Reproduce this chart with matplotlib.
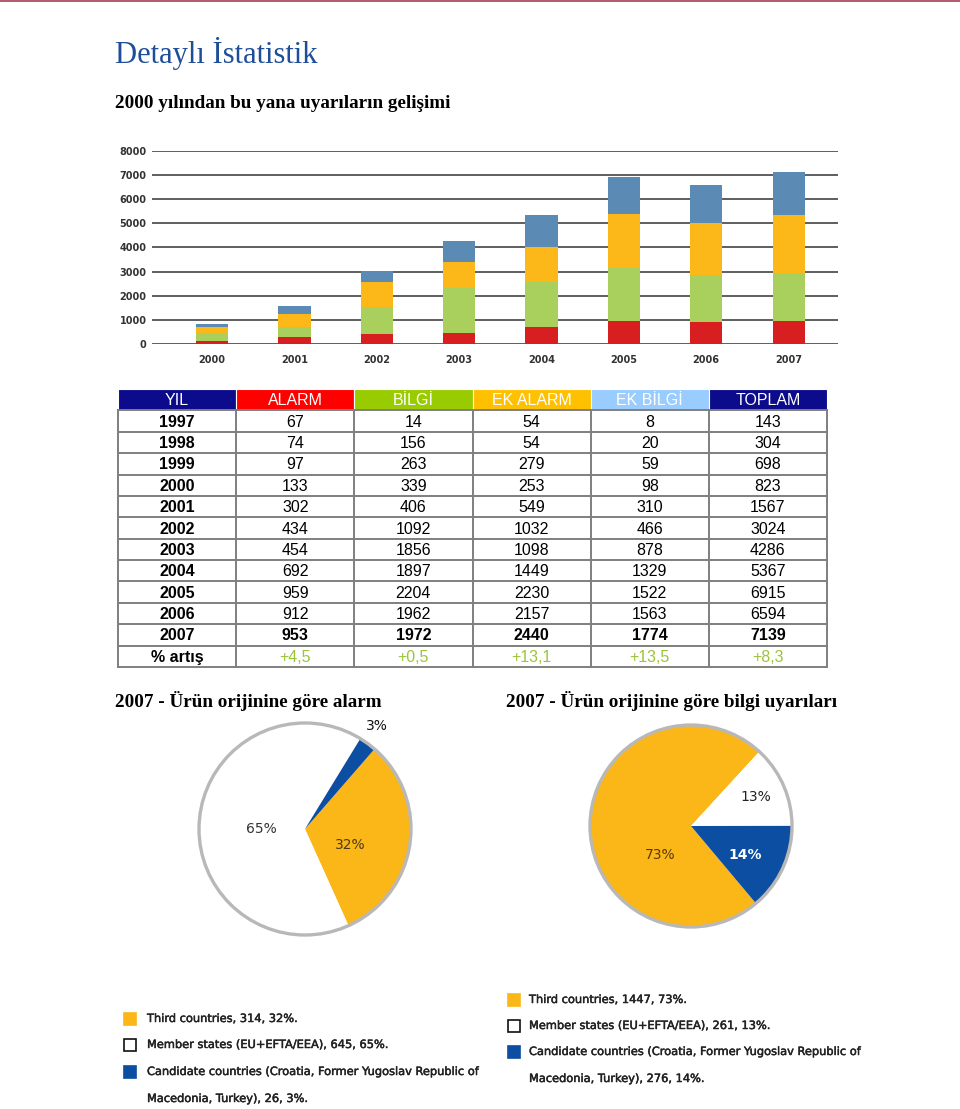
import numpy as np
import matplotlib.pyplot as plt
import matplotlib.patheffects as pe
from matplotlib.patches import Rectangle, Circle

W, H = 960, 1109

# bar chart data (2000-2007)
years = ['2000', '2001', '2002', '2003', '2004', '2005', '2006', '2007']
alarm = [133, 302, 434, 454, 692, 959, 912, 953]
bilgi = [339, 406, 1092, 1856, 1897, 2204, 1962, 1972]
ek_alarm = [253, 549, 1032, 1098, 1449, 2230, 2157, 2440]
ek_bilgi = [98, 310, 466, 878, 1329, 1522, 1563, 1774]

# table data (1997-2007)
table_years = ['1997', '1998', '1999'] + years
table_alarm = [67, 74, 97] + alarm
table_bilgi = [14, 156, 263] + bilgi
table_ek_alarm = [54, 54, 279] + ek_alarm
table_ek_bilgi = [8, 20, 59] + ek_bilgi
table_toplam = [143, 304, 698, 823, 1567, 3024, 4286, 5367, 6915, 6594, 7139]
artis = ['+4,5', '+0,5', '+13,1', '+13,5', '+8,3']
headers = ['YIL', 'ALARM', 'BİLGİ', 'EK ALARM', 'EK BİLGİ', 'TOPLAM']

# pies
alarm_origin = [314, 645, 26]
alarm_pct = ['32%', '65%', '3%']
bilgi_origin = [1447, 261, 276]
bilgi_pct = ['73%', '13%', '14%']
legend_alarm = ['Third countries, 314, 32%.',
                'Member states (EU+EFTA/EEA), 645, 65%.',
                'Candidate countries (Croatia, Former Yugoslav Republic of',
                'Macedonia, Turkey), 26, 3%.']
legend_bilgi = ['Third countries, 1447, 73%.',
                'Member states (EU+EFTA/EEA), 261, 13%.',
                'Candidate countries (Croatia, Former Yugoslav Republic of',
                'Macedonia, Turkey), 276, 14%.']

bar_colors = ['#d71f22', '#a9d05c', '#fbb818', '#5b8ab5']
origin_colors = ['#fbb617', '#ffffff', '#0b4ea2']
head_colors = ['#0b0b8c', '#ff0000', '#99cc00', '#ffc000', '#99ccff', '#0b0b8c']


def box(x0, y0, x1, y1):
    return [x0 / W, 1 - y1 / H, (x1 - x0) / W, (y1 - y0) / H]


def fy(y):
    return 1 - y / H


fig = plt.figure(figsize=(W / 100, H / 100), dpi=100)
fig.patches.append(Rectangle((0, fy(2)), 1, 2 / H, transform=fig.transFigure,
                             color='#b0606c', lw=0))

serif = 'Liberation Serif'
fig.text(115 / W, fy(53), 'Detaylı İstatistik', family=serif, fontsize=22,
         color='#1f4e99', va='center')
fig.text(115 / W, fy(103), '2000 yılından bu yana uyarıların gelişimi', family=serif,
         fontsize=13.8, weight='bold', va='center')

# stacked bars
ax = fig.add_axes(box(152, 151, 838, 344))
x = np.arange(len(years))
bottom = np.zeros(len(years))
for vals, c in zip([alarm, bilgi, ek_alarm, ek_bilgi], bar_colors):
    ax.bar(x, vals, 0.39, bottom=bottom, color=c, zorder=3)
    bottom += np.array(vals)
ax.set_ylim(0, 8000)
ax.set_xlim(-0.73, 7.6)
ax.set_yticks(range(0, 8001, 1000))
ax.set_xticks(x)
ax.set_xticklabels(years)
ax.yaxis.grid(True, color='#333333', lw=1.1, zorder=0)
for s in ax.spines.values():
    s.set_visible(False)
ax.tick_params(length=0, labelsize=7, colors='#333333')
ax.tick_params(axis='y', pad=4)
ax.tick_params(axis='x', pad=8)
for t in ax.get_xticklabels() + ax.get_yticklabels():
    t.set_fontweight('bold')

# table
tx = fig.add_axes(box(118, 389, 827, 667))
tx.set_xlim(0, 6)
tx.set_ylim(13, 0)
tx.axis('off')
sans = 'Liberation Sans'
for j, (h, c) in enumerate(zip(headers, head_colors)):
    tx.add_patch(Rectangle((j, 0), 1, 1, facecolor=c, edgecolor='white', lw=0.8))
    tx.text(j + 0.5, 0.55, h, ha='center', va='center', color='white',
            family=sans, fontsize=11.5)
cols = [table_alarm, table_bilgi, table_ek_alarm, table_ek_bilgi, table_toplam]
for i, yr in enumerate(table_years):
    r = i + 1
    last = yr == '2007'
    tx.text(0.5, r + 0.55, yr, ha='center', va='center', family=sans,
            fontsize=11.5, weight='bold')
    for j, col in enumerate(cols):
        tx.text(j + 1.5, r + 0.55, str(col[i]), ha='center', va='center',
                family=sans, fontsize=11.5, weight='bold' if last else 'normal')
tx.text(0.5, 12.55, '% artış', ha='center', va='center', family=sans,
        fontsize=11.5, weight='bold')
for j, a in enumerate(artis):
    tx.text(j + 1.5, 12.55, a, ha='center', va='center', family=sans,
            fontsize=11.5, color='#9cc43a')
for r in range(1, 14):
    tx.plot([0, 6], [r, r], color='#7f7f7f', lw=1.4, clip_on=False)
for j in range(0, 7):
    tx.plot([j, j], [1, 13], color='#7f7f7f', lw=1.4, clip_on=False)

fig.text(115 / W, fy(701), '2007 - Ürün orijinine göre alarm', family=serif,
         fontsize=13.8, weight='bold', va='center')
fig.text(506 / W, fy(701), '2007 - Ürün orijinine göre bilgi uyarıları', family=serif,
         fontsize=13.8, weight='bold', va='center')


def draw_pie(cx, cy, r, vals, start, labels, lpos, lcolors, lweights):
    pa = fig.add_axes(box(cx - r - 4, cy - r - 4, cx + r + 4, cy + r + 4))
    lim = (r + 4) / r
    pa.pie(vals, colors=origin_colors, startangle=start, counterclock=False,
           radius=1, wedgeprops=dict(linewidth=0))
    pa.add_patch(Circle((0, 0), 1, fill=False, edgecolor='#b8b8b8', lw=2.4))
    pa.set_xlim(-lim, lim)
    pa.set_ylim(-lim, lim)
    pa.set_aspect('equal')
    pa.axis('off')
    for lab, (rad, ang), c, w in zip(labels, lpos, lcolors, lweights):
        a = np.radians(ang)
        pa.text(rad * np.cos(a), rad * np.sin(a), lab, ha='center', va='center',
                fontsize=10, color=c, weight=w, clip_on=False)


draw_pie(305, 829, 106, alarm_origin, 49, alarm_pct,
         [(0.45, -20), (0.41, 180), (1.19, 55)],
         ['#4a3a12', '#333333', '#111111'], ['normal', 'normal', 'normal'])
draw_pie(691, 826, 101, bilgi_origin, -50, bilgi_pct,
         [(0.42, -137), (0.70, 24), (0.61, -28)],
         ['#5a3a05', '#222222', 'white'], ['normal', 'normal', 'bold'])

thick = [pe.withStroke(linewidth=0.35, foreground='#222222')]


def draw_legend(sx, tx0, ys, texts):
    for k, t in enumerate(texts):
        fig.text(tx0 / W, fy(ys[k]), t, fontsize=8.2, color='#222222', va='center',
                 path_effects=thick)
    for k, c in enumerate(origin_colors):
        y = ys[k]
        fig.patches.append(Rectangle((sx / W, fy(y + 6)), 12 / W, 12 / H,
                                     transform=fig.transFigure, facecolor=c,
                                     edgecolor='#111111' if c == '#ffffff' else c,
                                     lw=1.2))


draw_legend(124, 147, [1019, 1045, 1072, 1099], legend_alarm)
draw_legend(508, 529, [1000, 1026, 1052, 1079], legend_bilgi)

fig.savefig('out.png', dpi=100, facecolor='white')
